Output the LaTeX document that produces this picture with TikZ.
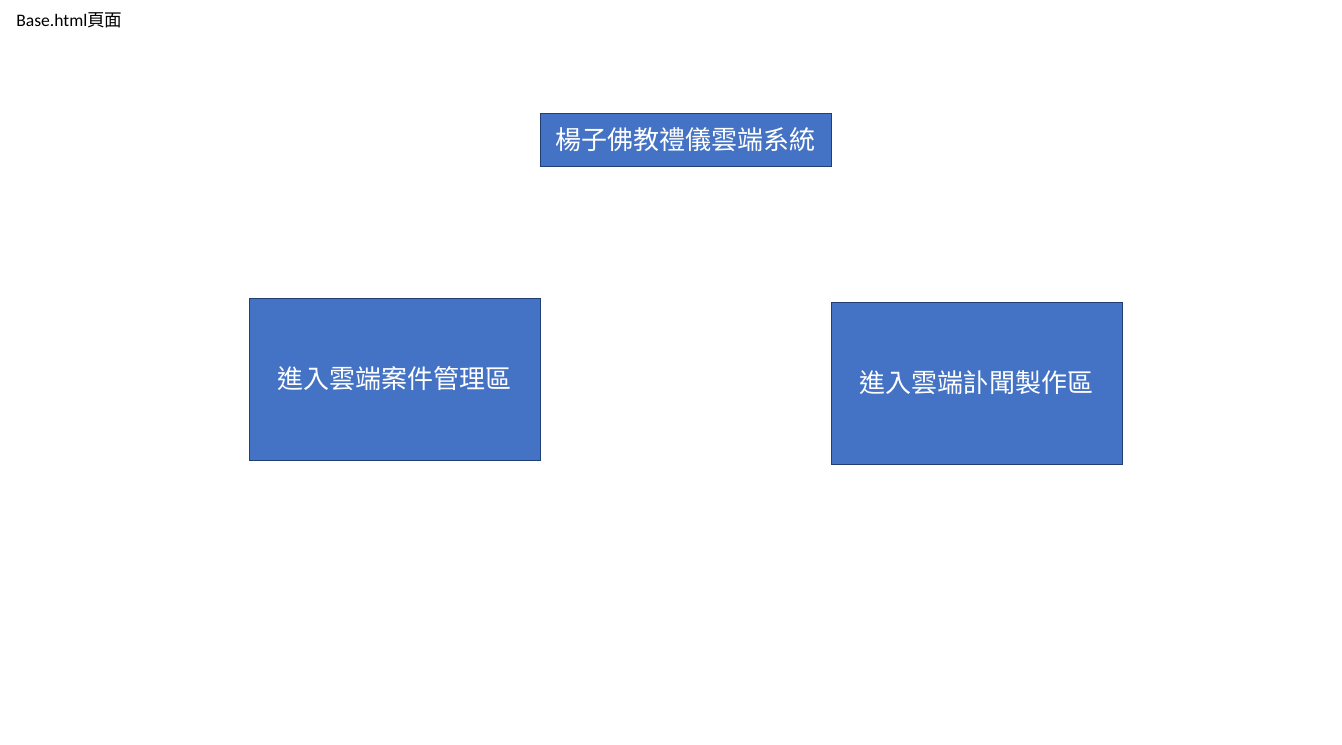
\documentclass[tikz,border=0pt]{standalone}
\usepackage{fontspec}
\usepackage{xcolor}
\usepackage{tikz}
\usetikzlibrary{positioning}
\setmainfont{Carlito}
\newfontfamily\cjk{Noto Sans CJK TC}
\definecolor{boxblue}{HTML}{4472C4}
\definecolor{boxedge}{HTML}{223F73}

\tikzset{
  menubox/.style={draw=boxedge, fill=boxblue, line width=0.5pt, text=white,
    font=\cjk\fontsize{14.8}{16}\selectfont, inner sep=0pt}
}

\begin{document}
\begin{tikzpicture}
  \useasboundingbox (0,0) rectangle (26.84,-14.88);
  \fill[white] (0,0) rectangle (26.84,-14.88);
  % page label
  \node[anchor=west, inner sep=0pt, font=\fontsize{10}{12}\selectfont] (pagelabel)
    at (0.32,-0.41) {Base.html{\cjk 頁面}};
  % system title
  \node[menubox, minimum width=5.82cm, minimum height=1.06cm] (sysname)
    at (13.71,-2.79) {楊子佛教禮儀雲端系統};
  % entry boxes
  \node[menubox, minimum width=5.82cm, minimum height=3.24cm] (caseentry)
    at (7.89,-7.58) {進入雲端案件管理區};
  \node[menubox, minimum width=5.82cm, minimum height=3.24cm] (obitentry)
    at (19.53,-7.66) {進入雲端訃聞製作區};
\end{tikzpicture}
\end{document}
